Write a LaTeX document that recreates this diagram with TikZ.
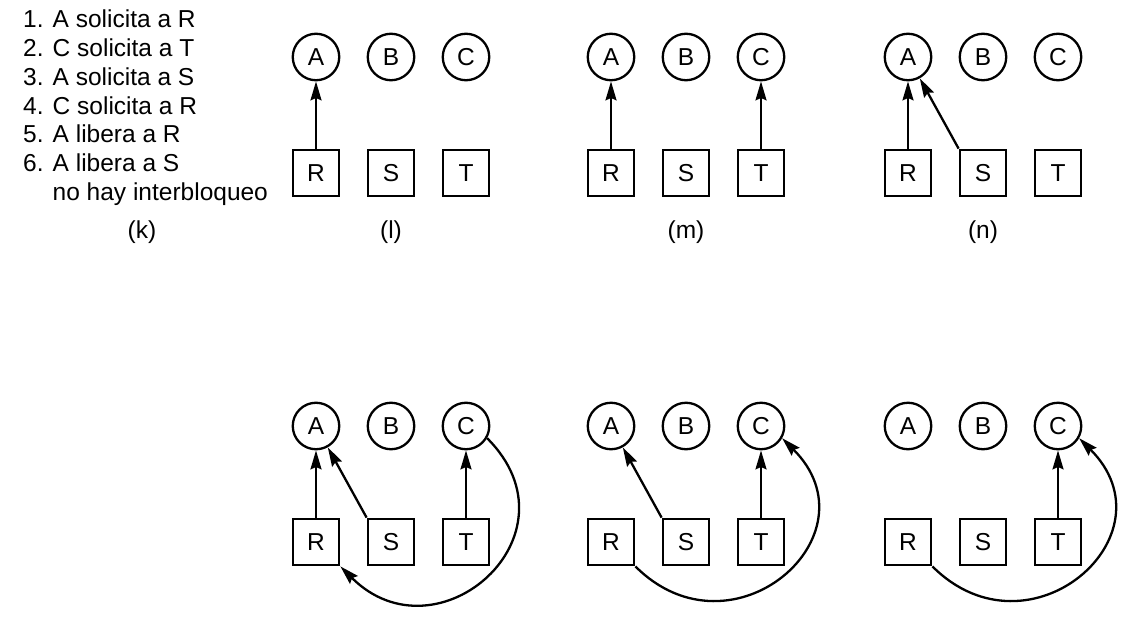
\documentclass[tikz,border=0pt]{standalone}
\usepackage{fontspec}
\setmainfont{Liberation Sans}
\usetikzlibrary{arrows.meta}

\begin{document}
\begin{tikzpicture}[x=1pt, y=1pt,
    proc/.style={circle, draw, line width=2.3pt, minimum size=46.5pt, inner sep=0pt,
      font=\fontsize{24.5}{28}\selectfont},
    res/.style={rectangle, draw, line width=2.3pt, minimum size=46.5pt, inner sep=0pt,
      font=\fontsize{24.5}{28}\selectfont},
    req/.style={line width=2.3pt, -{Stealth[length=19pt,width=11pt,inset=2.5pt]}},
    steptxt/.style={anchor=base west, inner sep=0pt, font=\fontsize{24.5}{28}\selectfont},
    panellabel/.style={inner sep=0pt, font=\fontsize{24.5}{28}\selectfont}
  ]
    \useasboundingbox (0,0) rectangle (1129,-623);

    % request sequence
    \foreach \txt [count=\i] in {1. A solicita a R, 2. C solicita a T, 3. A solicita a S,
        4. C solicita a R, 5. A libera a R, 6. A libera a S, {\hphantom{6. }no hay interbloqueo}}
      \node[steptxt] (step\i) at (23,{-28-28.7*(\i-1)}) {\txt};

    % processes and resources of each panel
    \foreach \p/\x/\y in {l/316/57, m/611/57, n/908/57, o/316/426, p/611/426, q/908/426} {
      \node[proc] (A\p) at (\x,-\y)     {A};
      \node[proc] (B\p) at (\x+75,-\y)  {B};
      \node[proc] (C\p) at (\x+150,-\y) {C};
      \node[res]  (R\p) at (\x,-\y-116)     {R};
      \node[res]  (S\p) at (\x+75,-\y-116)  {S};
      \node[res]  (T\p) at (\x+150,-\y-116) {T};
    }

    \node[panellabel] (labk) at (142,-232) {(k)};
    \node[panellabel] (labl) at (391,-232) {(l)};
    \node[panellabel] (labm) at (686,-232) {(m)};
    \node[panellabel] (labn) at (983,-232) {(n)};

    % (l)
    \draw[req] (Rl) -- (Al);
    % (m)
    \draw[req] (Rm) -- (Am);
    \draw[req] (Tm) -- (Cm);
    % (n)
    \draw[req] (Rn) -- (An);
    \draw[req] (Sn.north west) -- (An);
    % (o)
    \draw[req] (Ro) -- (Ao);
    \draw[req] (So.north west) -- (Ao);
    \draw[req] (To) -- (Co);
    \draw[req] (Co.-30) to[out=-45, in=-45, looseness=1.8] (Ro.south east);
    % (p)
    \draw[req] (Sp.north west) -- (Ap);
    \draw[req] (Tp) -- (Cp);
    \draw[req] (Rp.south east) to[out=-45, in=-45, looseness=1.8] (Cp.-30);
    % (q)
    \draw[req] (Tq) -- (Cq);
    \draw[req] (Rq.south east) to[out=-45, in=-45, looseness=1.8] (Cq.-30);
\end{tikzpicture}
\end{document}
